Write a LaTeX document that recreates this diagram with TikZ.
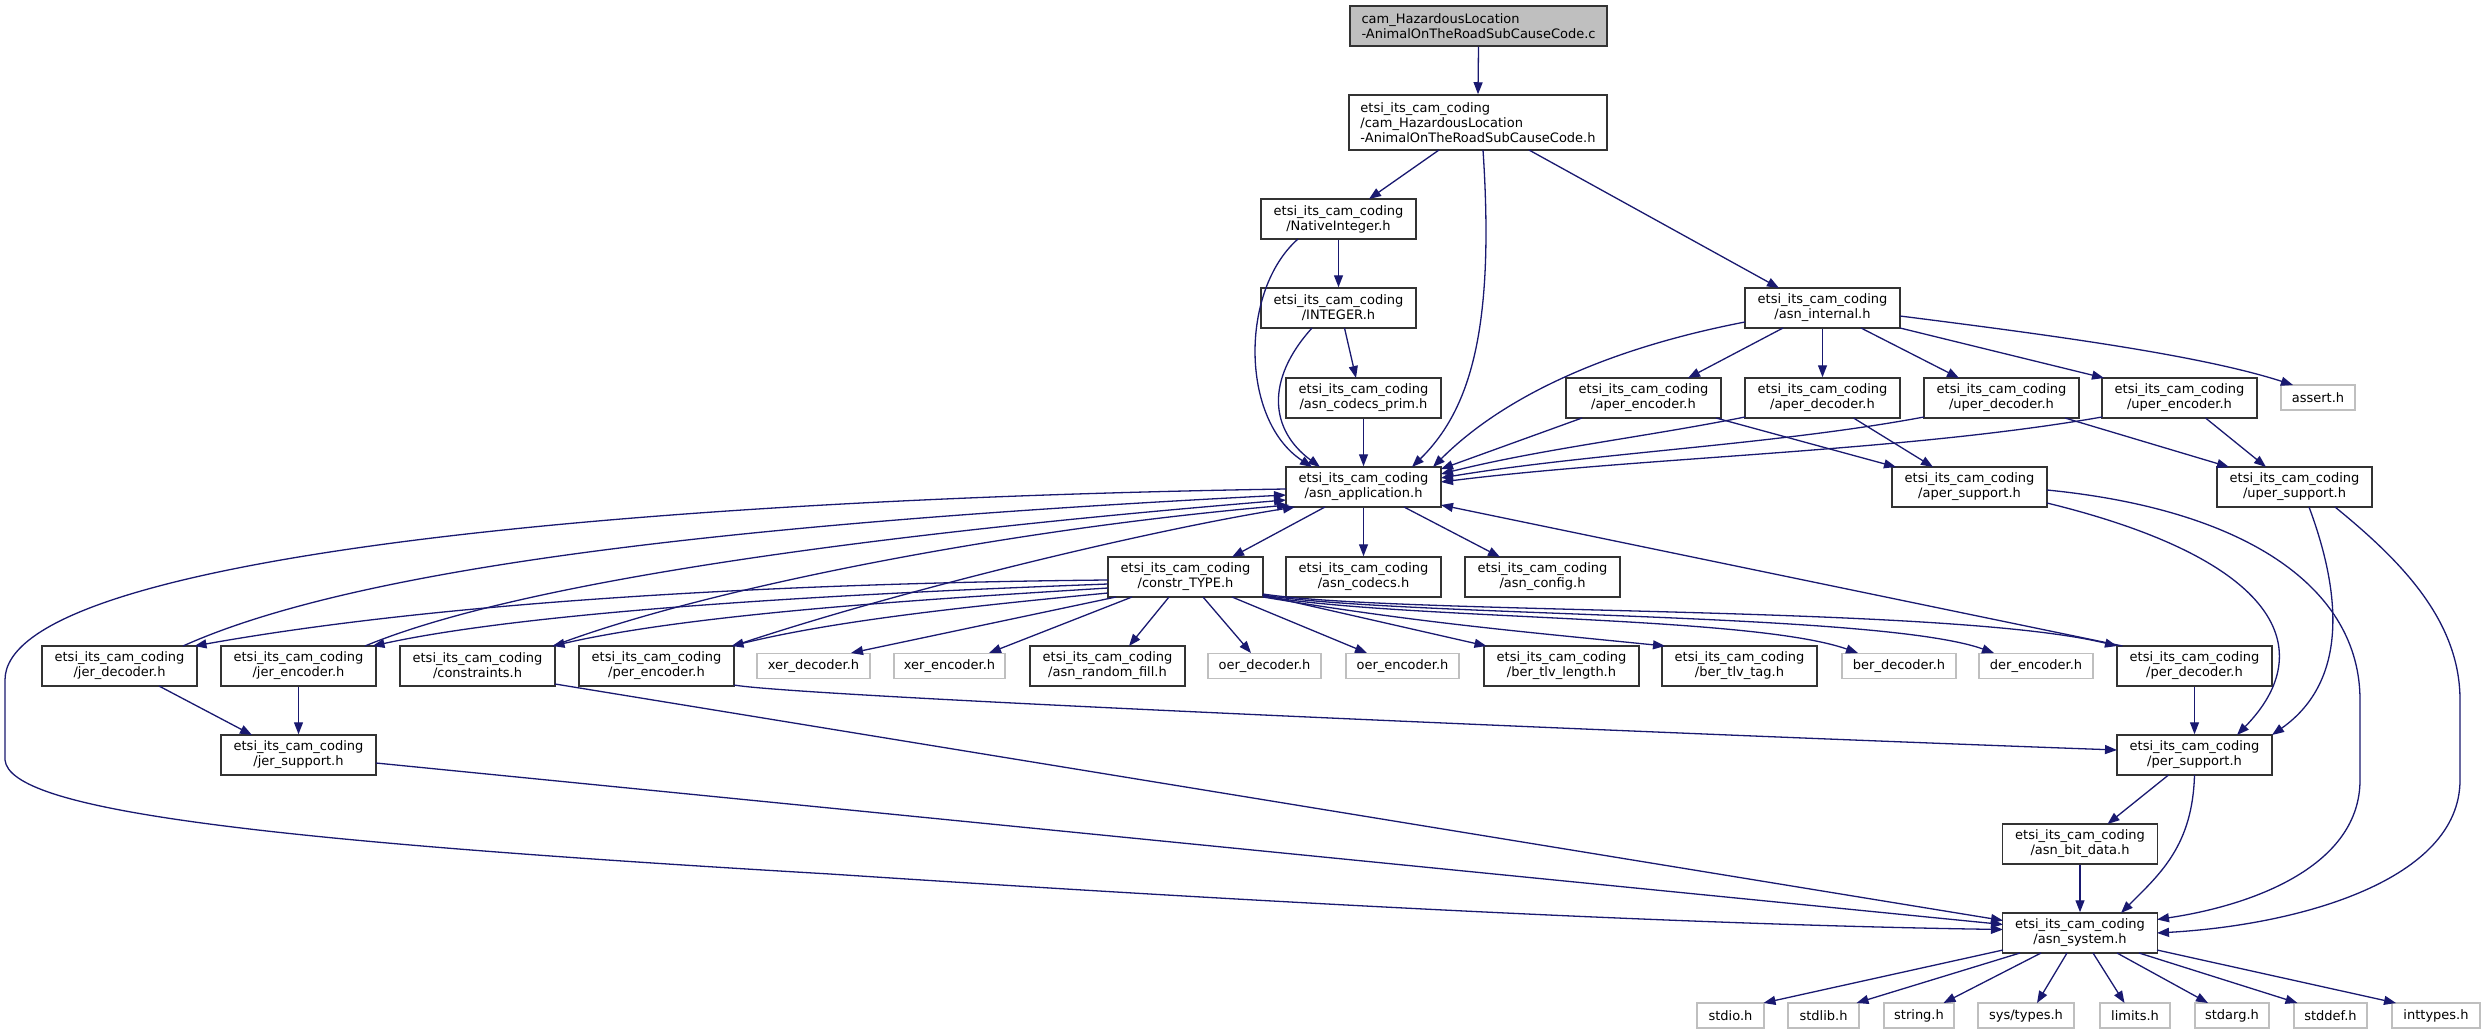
\documentclass[tikz,border=0pt]{standalone}
\usepackage{fontspec}
\setmainfont{DejaVu Sans}
\usetikzlibrary{arrows.meta,calc}
\definecolor{mblue}{HTML}{191970}
\definecolor{topfill}{HTML}{BFBFBF}
\definecolor{boxline}{HTML}{333333}
\definecolor{greyline}{HTML}{BFBFBF}
\newcommand{\dfont}{\fontsize{13}{15}\selectfont}
\tikzset{
  fbox/.style={draw=boxline, line width=1.5pt, fill=white, minimum width=155pt, minimum height=40pt, inner sep=0pt, align=center, font=\dfont},
  gbox/.style={draw=greyline, line width=1.5pt, fill=white, minimum height=25pt, inner sep=0pt, font=\dfont},
  edge/.style={draw=mblue, line width=1.3pt, -{Triangle[length=12pt,width=9pt]}},
}
\begin{document}
\begin{tikzpicture}[x=1pt,y=-1pt]
\useasboundingbox[fill=white] (0,0) rectangle (2485,1035);
% nodes
\node[fbox, fill=topfill, minimum width=257pt, align=left] (top) at (1478.5,26) {cam\_HazardousLocation\\-AnimalOnTheRoadSubCauseCode.c};
\node[fbox, minimum width=258pt, minimum height=55pt, align=left] (camh) at (1478,122.5) {etsi\_its\_cam\_coding\\/cam\_HazardousLocation\\-AnimalOnTheRoadSubCauseCode.h};
\node[fbox] (nat) at (1338.5,219) {etsi\_its\_cam\_coding\\/NativeInteger.h};
\node[fbox] (integer) at (1338.5,308) {etsi\_its\_cam\_coding\\/INTEGER.h};
\node[fbox] (prim) at (1363.5,398) {etsi\_its\_cam\_coding\\/asn\_codecs\_prim.h};
\node[fbox] (app) at (1363.5,487) {etsi\_its\_cam\_coding\\/asn\_application.h};
\node[fbox] (internal) at (1822.5,308) {etsi\_its\_cam\_coding\\/asn\_internal.h};
\node[fbox] (aperenc) at (1643.5,398) {etsi\_its\_cam\_coding\\/aper\_encoder.h};
\node[fbox] (aperdec) at (1822.5,398) {etsi\_its\_cam\_coding\\/aper\_decoder.h};
\node[fbox] (uperdec) at (2001.5,398) {etsi\_its\_cam\_coding\\/uper\_decoder.h};
\node[fbox] (uperenc) at (2179.5,398) {etsi\_its\_cam\_coding\\/uper\_encoder.h};
\node[gbox, minimum width=74pt] (assert) at (2318,397.5) {assert.h};
\node[fbox] (apersup) at (1969.5,487) {etsi\_its\_cam\_coding\\/aper\_support.h};
\node[fbox] (upersup) at (2294.5,487) {etsi\_its\_cam\_coding\\/uper\_support.h};
\node[fbox] (constr) at (1185.5,577) {etsi\_its\_cam\_coding\\/constr\_TYPE.h};
\node[fbox] (codecs) at (1363.5,577) {etsi\_its\_cam\_coding\\/asn\_codecs.h};
\node[fbox] (config) at (1542.5,577) {etsi\_its\_cam\_coding\\/asn\_config.h};
\node[fbox] (jerdec) at (119.5,666) {etsi\_its\_cam\_coding\\/jer\_decoder.h};
\node[fbox] (jerenc) at (298.5,666) {etsi\_its\_cam\_coding\\/jer\_encoder.h};
\node[fbox] (constraints) at (477.5,666) {etsi\_its\_cam\_coding\\/constraints.h};
\node[fbox] (perenc) at (656.5,666) {etsi\_its\_cam\_coding\\/per\_encoder.h};
\node[gbox, minimum width=113pt] (xerdec) at (813.5,666) {xer\_decoder.h};
\node[gbox, minimum width=111pt] (xerenc) at (949.5,666) {xer\_encoder.h};
\node[fbox] (randfill) at (1107.5,666) {etsi\_its\_cam\_coding\\/asn\_random\_fill.h};
\node[gbox, minimum width=113pt] (oerdec) at (1264.5,666) {oer\_decoder.h};
\node[gbox, minimum width=113pt] (oerenc) at (1402.5,666) {oer\_encoder.h};
\node[fbox] (tlvlen) at (1561.5,666) {etsi\_its\_cam\_coding\\/ber\_tlv\_length.h};
\node[fbox] (tlvtag) at (1739.5,666) {etsi\_its\_cam\_coding\\/ber\_tlv\_tag.h};
\node[gbox, minimum width=114pt] (berdec) at (1899,666) {ber\_decoder.h};
\node[gbox, minimum width=114pt] (derenc) at (2036,666) {der\_encoder.h};
\node[fbox] (perdec) at (2194.5,666) {etsi\_its\_cam\_coding\\/per\_decoder.h};
\node[fbox] (jersup) at (298.5,755) {etsi\_its\_cam\_coding\\/jer\_support.h};
\node[fbox] (persup) at (2194.5,755) {etsi\_its\_cam\_coding\\/per\_support.h};
\node[fbox] (bitdata) at (2080,844) {etsi\_its\_cam\_coding\\/asn\_bit\_data.h};
\node[fbox] (system) at (2080,933) {etsi\_its\_cam\_coding\\/asn\_system.h};
\node[gbox, minimum width=67pt] (stdio) at (1730.5,1015.5) {stdio.h};
\node[gbox, minimum width=71pt] (stdlib) at (1823.5,1015.5) {stdlib.h};
\node[gbox, minimum width=70pt] (string) at (1919,1015.5) {string.h};
\node[gbox, minimum width=96pt] (systypes) at (2026,1015.5) {sys/types.h};
\node[gbox, minimum width=70pt] (limits) at (2135,1015.5) {limits.h};
\node[gbox, minimum width=74pt] (stdarg) at (2232,1015.5) {stdarg.h};
\node[gbox, minimum width=73pt] (stddef) at (2330.5,1015.5) {stddef.h};
\node[gbox, minimum width=88pt] (inttypes) at (2436,1015.5) {inttypes.h};
% edges
\draw[edge] (top.south) -- (camh.north);
\draw[edge] ($(camh)+(-39,27.5)$) -- ($(nat)+(30.5,-20)$);
\draw[edge] ($(camh)+(5,27.5)$) .. controls +(12,180) and +(58,-57) .. ($(app)+(48.5,-20)$);
\draw[edge] ($(camh)+(51,27.5)$) -- ($(internal)+(-43.5,-20)$);
\draw[edge] (nat.south) -- (integer.north);
\draw[edge] ($(nat)+(-40.5,20)$) .. controls +(-58,51) and +(-72,-47) .. ($(app)+(-51.5,-20)$);
\draw[edge] ($(integer)+(-26.5,20)$) .. controls +(-47,52) and +(-50,-37) .. ($(app)+(-43.5,-20)$);
\draw[edge] ($(integer)+(6,20)$) -- ($(prim)+(-7.5,-20)$);
\draw[edge] (prim.south) -- (app.north);
\draw[edge] ($(internal)+(-77.5,14)$) .. controls +(-145,28) and +(67,-67) .. ($(app)+(69.5,-20)$);
\draw[edge] ($(internal)+(-39.5,20)$) -- ($(aperenc)+(44.5,-20)$);
\draw[edge] (internal.south) -- (aperdec.north);
\draw[edge] ($(internal)+(38.5,20)$) -- ($(uperdec)+(-42.5,-20)$);
\draw[edge] ($(internal)+(77.5,20)$) -- ($(uperenc)+(-75.5,-20)$);
\draw[edge] ($(internal)+(77.5,8)$) .. controls +(150,19) and +(-93,-30) .. ($(assert)+(-25,-12.5)$);
\draw[edge] ($(aperenc)+(-61.5,20)$) -- ($(app)+(77.5,-18)$);
\draw[edge] ($(aperenc)+(72.5,20)$) -- ($(apersup)+(-73.5,-20)$);
\draw[edge] ($(aperdec)+(31,20)$) -- ($(apersup)+(-36.5,-20)$);
\draw[edge] ($(aperdec)+(-77.5,19)$) .. controls +(-100,20) and +(100,-25) .. ($(app)+(77.5,-13)$);
\draw[edge] ($(uperdec)+(-77.5,19)$) .. controls +(-150,28) and +(150,-25) .. ($(app)+(77.5,-9)$);
\draw[edge] ($(uperenc)+(-77.5,19)$) .. controls +(-200,35) and +(200,-25) .. ($(app)+(77.5,-5)$);
\draw[edge] ($(uperdec)+(63.5,20)$) -- ($(upersup)+(-65.5,-20)$);
\draw[edge] ($(uperenc)+(26,20)$) -- ($(upersup)+(-28.5,-20)$);
\draw[edge] ($(apersup)+(77.5,3)$) .. controls (2250,510) and (2360,590) .. (2360,700) -- (2360,780) .. controls (2360,865) and (2255,905) .. ($(system)+(77,-13.5)$);
\draw[edge] ($(apersup)+(77.5,16)$) .. controls +(233,57) and +(83,-85) .. ($(persup)+(42.5,-20)$);
\draw[edge] ($(upersup)+(14.5,20)$) .. controls +(31,83) and +(78,-55) .. ($(persup)+(77.5,-20)$);
\draw[edge] ($(upersup)+(40.5,20)$) .. controls (2400,560) and (2460,620) .. (2460,700) -- (2460,780) .. controls (2460,880) and (2300,925) .. ($(system)+(77,0)$);
\draw[edge] (perdec.south) -- (persup.north);
\draw[edge] ($(persup)+(-26,20)$) -- ($(bitdata)+(27.5,-20)$);
\draw[edge] ($(persup)+(0,20)$) .. controls +(-2,70) and +(40,-40) .. ($(system)+(41,-20)$);
\draw[edge] (bitdata.south) -- (system.north);
\draw[edge] ($(perenc)+(77.5,19)$) .. controls +(67,12) and +(-417,-15) .. ($(persup)+(-77.5,-5)$);
\draw[edge] ($(constraints)+(77.5,18)$) -- ($(system)+(-77,-12.5)$);
\draw[edge] ($(jersup)+(77.5,8)$) -- ($(system)+(-77,-8.5)$);
\draw[edge] ($(app)+(-77.5,2)$) .. controls (600,500) and (5,560) .. (5,680) -- (5,760) .. controls (10,810) and (250,840) .. (830,874) .. controls (1300,905) and (1700,925) .. ($(system)+(-77,-3.5)$);
\draw[edge] ($(jerdec)+(63.5,-20)$) .. controls +(167,-75) and +(-586,30) .. ($(app)+(-77.5,8)$);
\draw[edge] ($(jerenc)+(66.5,-20)$) .. controls +(135,-56) and +(-486,40) .. ($(app)+(-77.5,13)$);
\draw[edge] ($(constraints)+(75.5,-20)$) .. controls +(147,-56) and +(-289,25) .. ($(app)+(-74.5,18)$);
\draw[edge] ($(perenc)+(76.5,-20)$) .. controls +(167,-56) and +(-145,23) .. ($(app)+(-68.5,20)$);
\draw[edge] ($(constr)+(-77.5,3)$) .. controls +(-208,2) and +(302,-54) .. ($(jerdec)+(75,-20)$);
\draw[edge] ($(constr)+(-77.5,7)$) .. controls +(-158,6) and +(187.5,-41) .. ($(jerenc)+(74,-20)$);
\draw[edge] ($(constr)+(-77.5,11)$) .. controls +(-158,10) and +(147.5,-34) .. ($(constraints)+(75,-20)$);
\draw[edge] ($(constr)+(-77.5,16)$) .. controls +(-158,15) and +(98.5,-24) .. ($(perenc)+(75,-20)$);
\draw[edge] ($(constr)+(-69.5,20)$) -- ($(xerdec)+(37.5,-13)$);
\draw[edge] ($(constr)+(-53.5,20)$) -- ($(xerenc)+(39.5,-13)$);
\draw[edge] ($(constr)+(-16.5,20)$) -- ($(randfill)+(21.5,-20)$);
\draw[edge] ($(constr)+(17.5,20)$) -- ($(oerdec)+(-13.5,-13)$);
\draw[edge] ($(constr)+(46.5,20)$) -- ($(oerenc)+(-35.5,-13)$);
\draw[edge] ($(constr)+(77,18)$) -- ($(tlvlen)+(-75,-20)$);
\draw[edge] ($(constr)+(77.5,20)$) .. controls +(150,25) and +(-150,-15) .. ($(tlvtag)+(-74.5,-20)$);
\draw[edge] ($(constr)+(77.5,19)$) .. controls +(137,24) and +(-108,-38) .. ($(berdec)+(-41,-13)$);
\draw[edge] ($(constr)+(77.5,18)$) .. controls +(137,22) and +(-114,-41) .. ($(derenc)+(-42,-13)$);
\draw[edge] ($(constr)+(77.5,17)$) .. controls +(137,21) and +(-167,-41) .. ($(perdec)+(-77.5,-20)$);
\draw[edge] ($(perdec)+(-72,-20)$) -- ($(app)+(77.5,18)$);
\draw[edge] ($(jerdec)+(39.5,20)$) -- ($(jersup)+(-46.5,-20)$);
\draw[edge] (jerenc.south) -- (jersup.north);
\draw[edge] ($(app)+(-38.5,20)$) -- ($(constr)+(46.5,-20)$);
\draw[edge] (app.south) -- (codecs.north);
\draw[edge] ($(app)+(40.5,20)$) -- ($(config)+(-42.5,-20)$);
\draw[edge] ($(system)+(-77,17)$) -- ($(stdio)+(33,-12.5)$);
\draw[edge] ($(system)+(-60,20)$) -- ($(stdlib)+(33,-12.5)$);
\draw[edge] ($(system)+(-39,20)$) -- ($(string)+(24.5,-12.5)$);
\draw[edge] ($(system)+(-13,20)$) -- ($(systypes)+(11,-12.5)$);
\draw[edge] ($(system)+(13,20)$) -- ($(limits)+(-10.5,-12.5)$);
\draw[edge] ($(system)+(37,20)$) -- ($(stdarg)+(-24,-12.5)$);
\draw[edge] ($(system)+(59,20)$) -- ($(stddef)+(-33,-12.5)$);
\draw[edge] ($(system)+(77,17)$) -- ($(inttypes)+(-40,-12.5)$);
\end{tikzpicture}
\end{document}
